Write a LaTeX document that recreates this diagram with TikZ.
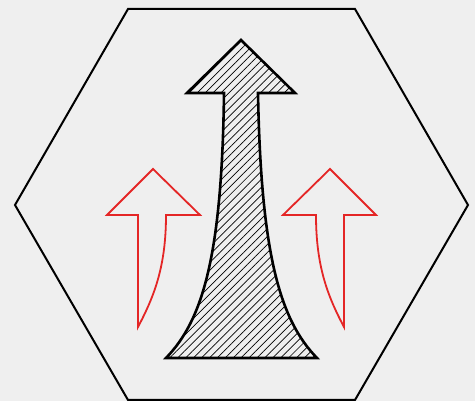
\documentclass[tikz,border=0pt]{standalone}
\usepackage{tikz}
\usetikzlibrary{patterns.meta}
\definecolor{bgcol}{RGB}{239,239,239}
\definecolor{arrowred}{RGB}{228,38,38}

\begin{document}
\begin{tikzpicture}[x=1pt,y=-1pt,line join=miter]
  \fill[bgcol] (0,0) rectangle (475,401);
  \useasboundingbox (0,0) rectangle (475,401);
  % hexagon
  \draw[line width=2pt] (128,9) -- (355,9) -- (468,205) -- (355,400) -- (128,400) -- (15,205) -- cycle;
  % big hatched arrow
  \draw[line width=2.6pt,pattern={Lines[angle=45,distance=5.6pt,line width=0.7pt]}]
    (241,40) -- (295,93) -- (258,93) .. controls (261,255) and (280,320) .. (317,358)
    -- (166,358) .. controls (203,320) and (222,255) .. (224,93) -- (187,93) -- cycle;
  % small red arrows
  \draw[arrowred,line width=1.8pt]
    (153,169) -- (200,215) -- (166,215) .. controls (166,265) and (155,295) .. (138,327)
    -- (138,215) -- (107,215) -- cycle;
  \draw[arrowred,line width=1.8pt]
    (330,169) -- (376,215) -- (344,215) -- (344,327)
    .. controls (327,295) and (316,265) .. (316,215) -- (283,215) -- cycle;
\end{tikzpicture}
\end{document}
